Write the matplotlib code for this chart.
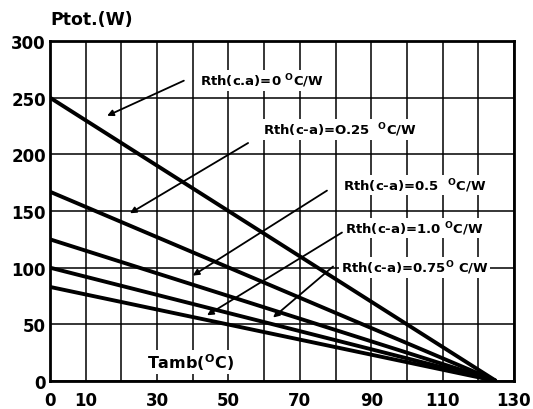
import matplotlib
matplotlib.use("Agg")
import matplotlib.pyplot as plt
import numpy as np

plt.rcParams['font.family'] = ['DejaVu Sans']
plt.rcParams['font.weight'] = 'bold'
plt.rcParams['mathtext.fontset'] = 'custom'
plt.rcParams['mathtext.rm'] = 'DejaVu Sans:bold'
plt.rcParams['mathtext.it'] = 'DejaVu Sans:bold'
plt.rcParams['mathtext.bf'] = 'DejaVu Sans:bold'

# Data: power derating lines, from P at Tamb=0 down to 0 at Tamb=125
rth_labels = ["Rth(c.a)=0 $^{\\rm O}$C/W",
              "Rth(c-a)=O.25  $^{\\rm O}$C/W",
              "Rth(c-a)=0.5  $^{\\rm O}$C/W",
              "Rth(c-a)=0.75$^{\\rm O}$ C/W",
              "Rth(c-a)=1.0 $^{\\rm O}$C/W"]
p_at_zero = [250, 167, 125, 100, 83]
t_zero_power = 125
x_ticks = [0, 10, 30, 50, 70, 90, 110, 130]
y_ticks = [0, 50, 100, 150, 200, 250, 300]

# annotation geometry: (text x, text y, arrow head x, arrow head y, arrow tail x, arrow tail y)
ann = [
    (42, 265, 16, 234, 37.5, 265),
    (59.7, 222, 22.4, 148, 55.5, 210),
    (82, 173, 40, 93, 77.6, 168),
    (81.5, 100, 62.5, 56, 79.3, 101),
    (82.7, 135, 44, 58, 81.8, 131),
]

fig = plt.figure(figsize=(5.33, 4.10), dpi=100)
ax = fig.add_axes([50/533, 28/410, 464/533, 340/410])

ax.set_xlim(0, 130)
ax.set_ylim(0, 300)
ax.set_xticks(range(0, 131, 10))
ax.set_xticklabels([str(v) if v in x_ticks else '' for v in range(0, 131, 10)])
ax.set_yticks(y_ticks)
ax.tick_params(length=0, labelsize=12)
ax.tick_params(axis='x', pad=7)
ax.tick_params(axis='y', pad=3)
for lab in ax.get_xticklabels() + ax.get_yticklabels():
    lab.set_fontweight('heavy')
ax.grid(True, color='black', linewidth=1.1)
for s in ax.spines.values():
    s.set_linewidth(2)

for p in p_at_zero:
    ax.plot([0, t_zero_power], [p, 0], color='black', linewidth=2.8, solid_capstyle='butt', zorder=3)

for (lab, (tx, ty, hx, hy, ax_, ay)) in zip(rth_labels, ann):
    ax.annotate('', xy=(hx, hy), xytext=(ax_, ay),
                arrowprops=dict(arrowstyle='-|>', color='black', lw=1.3,
                                mutation_scale=9, shrinkA=0, shrinkB=0), zorder=4)
    ax.text(tx, ty, lab, fontsize=9.5, fontweight='bold', va='center', ha='left',
            bbox=dict(facecolor='white', edgecolor='none', pad=1), zorder=5)

ax.text(27.3, 17, "Tamb($^{\\rm O}$C)", fontsize=11.5, fontweight='bold', va='center', ha='left',
        bbox=dict(facecolor='white', edgecolor='none', pad=1), zorder=5)
fig.text(50/533, 1 - 20/410, "Ptot.(W)", fontsize=12.5, fontweight='bold', va='center', ha='left')

fig.savefig("out.png", dpi=100)
